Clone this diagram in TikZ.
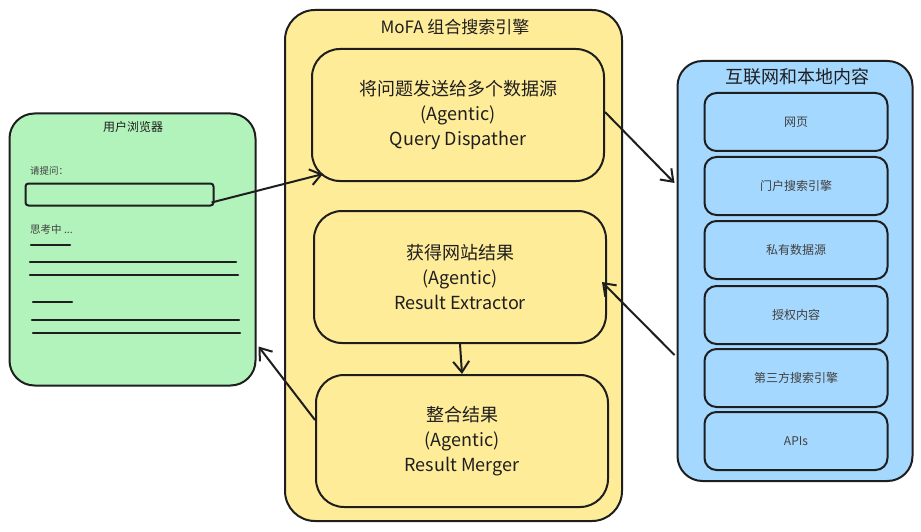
\documentclass[tikz,border=0pt]{standalone}
\usepackage{fontspec}
\newfontfamily\cjk{Noto Sans CJK SC}
\usetikzlibrary{arrows.meta,calc}
\definecolor{ink}{HTML}{1E1E1E}
\definecolor{gfill}{HTML}{B2F2BB}
\definecolor{yfill}{HTML}{FFEC99}
\definecolor{bfill}{HTML}{A5D8FF}
\tikzset{
  panel/.style={draw=ink, line width=2pt, inner sep=0pt},
  agentbox/.style={draw=ink, line width=2pt, fill=yfill, rounded corners=28pt,
    minimum width=292pt, minimum height=132pt, align=center, text=ink,
    font={\cjk\fontsize{18}{25}\selectfont}},
  srcbox/.style={draw=ink, line width=2pt, fill=bfill, rounded corners=12pt,
    minimum width=183pt, minimum height=58pt, text=ink!85,
    font={\cjk\fontsize{12}{14}\selectfont}},
  title/.style={text=ink, inner sep=0pt},
  uiline/.style={draw=ink, line width=2.2pt, line cap=round},
  conn/.style={draw=ink, line width=2pt, -{Straight Barb[length=11pt,width=16pt,line width=2pt]}},
}
\begin{document}
\begin{tikzpicture}[x=1pt,y=-1pt]
\path[use as bounding box, fill=white] (0,0) rectangle (921,532);

% left browser panel
\node[panel, fill=gfill, rounded corners=25pt, minimum width=246pt, minimum height=272pt] (browser) at (132.5,249.5) {};
\node[title, font={\cjk\fontsize{12}{14}\selectfont}] (btitle) at (133,127) {用户浏览器};
\node[title, anchor=west, text=ink!85, font={\cjk\fontsize{9.5}{11}\selectfont}] (ask) at (30,171) {请提问：};
\node[draw=ink, line width=2pt, rounded corners=3pt, minimum width=188pt, minimum height=22pt, inner sep=0pt] (inbox) at (119.5,194.5) {};
\node[title, anchor=west, text=ink!85, font={\cjk\fontsize{10.5}{12}\selectfont}] (think) at (30,230) {思考中 ...};
\coordinate (l1a) at (31,245); \coordinate (l1b) at (70,245);
\coordinate (l2a) at (30,262); \coordinate (l2b) at (236,262);
\coordinate (l3a) at (30,275); \coordinate (l3b) at (238,275);
\coordinate (l4a) at (33,302); \coordinate (l4b) at (72,302);
\coordinate (l5a) at (32,320); \coordinate (l5b) at (239,320);
\coordinate (l6a) at (33,333); \coordinate (l6b) at (240,333);
\draw[uiline] (l1a) -- (l1b);
\draw[uiline] (l2a) -- (l2b);
\draw[uiline] (l3a) -- (l3b);
\draw[uiline] (l4a) -- (l4b);
\draw[uiline] (l5a) -- (l5b);
\draw[uiline] (l6a) -- (l6b);

% centre engine panel
\node[panel, fill=yfill, rounded corners=30pt, minimum width=337pt, minimum height=511pt] (engine) at (453.5,265.5) {};
\node[title, font={\cjk\fontsize{17}{20}\selectfont}] (etitle) at (455,27) {MoFA 组合搜索引擎};
\node[agentbox] (box1) at (458,115) {将问题发送给多个数据源\\(Agentic)\\Query Dispather};
\node[agentbox] (box2) at (460,277) {获得网站结果\\(Agentic)\\Result Extractor};
\node[agentbox] (box3) at (462,441) {整合结果\\(Agentic)\\Result Merger};

% right sources panel
\node[panel, fill=bfill, rounded corners=25pt, minimum width=235pt, minimum height=420pt] (sources) at (795,271) {};
\node[title, font={\cjk\fontsize{18}{20}\selectfont}] (stitle) at (797,77) {互联网和本地内容};
\node[srcbox] (s1) at (796,122) {网页};
\node[srcbox] (s2) at (796,186) {门户搜索引擎};
\node[srcbox] (s3) at (796,250) {私有数据源};
\node[srcbox] (s4) at (796,315) {授权内容};
\node[srcbox] (s5) at (796,378) {第三方搜索引擎};
\node[srcbox] (s6) at (796,441) {APIs};

% connectors
\draw[conn] ([xshift=-3pt,yshift=-8pt]inbox.east) -- ([xshift=12pt,yshift=8pt]box1.south west);
\draw[conn] ([yshift=3pt]box1.east) -- ([xshift=-2pt,yshift=88pt]sources.west);
\draw[conn] ([xshift=-2pt,yshift=-84pt]sources.west) -- ([xshift=-5pt,yshift=-5pt]box2.east);
\draw[conn] (box2.south) -- (box3.north);
\draw[conn] ([yshift=21pt]box3.west) -- ([xshift=2pt,yshift=-97pt]browser.east);
\end{tikzpicture}
\end{document}
